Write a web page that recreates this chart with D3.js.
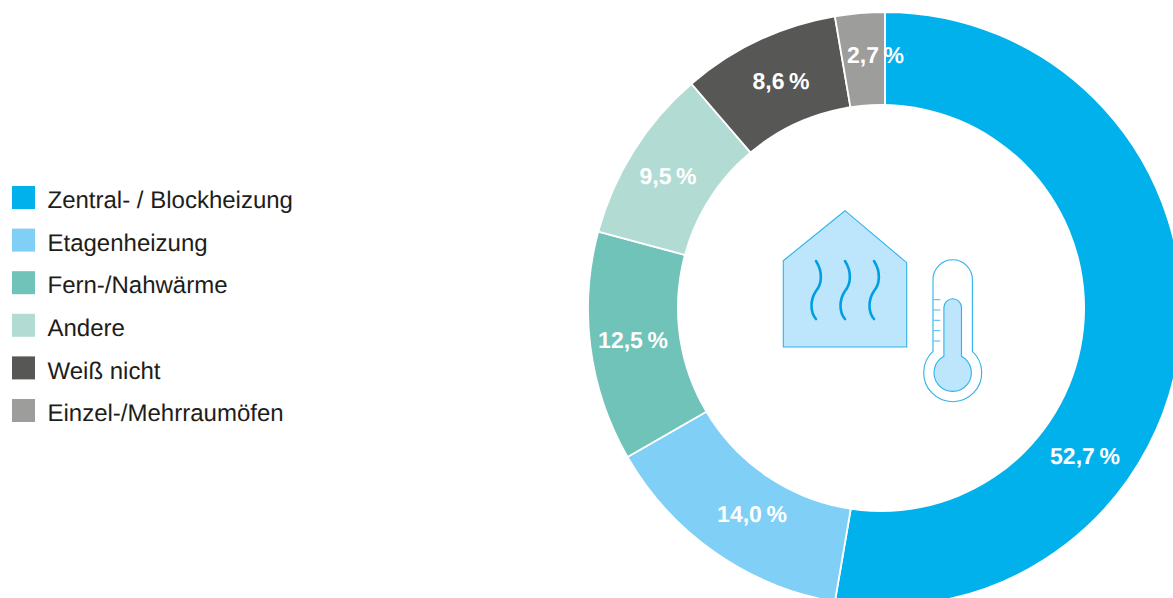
<!DOCTYPE html>
<html>
<head>
<meta charset="utf-8">
<script src="https://cdn.jsdelivr.net/npm/d3@7"></script>
<style>
html,body{margin:0;padding:0;background:#fff;overflow:hidden}
text{font-family:"Liberation Sans",Arial,sans-serif;text-rendering:geometricPrecision}
</style>
</head>
<body>
<svg id="chart" width="1173" height="598"></svg>
<script>
// Heating types and their shares in percent
const categories = ["Zentral- / Blockheizung","Etagenheizung","Fern-/Nahwärme","Andere","Weiß nicht","Einzel-/Mehrraumöfen"];
const shares = [52.7,14.0,12.5,9.5,8.6,2.7];
const colors = ["#00b1eb","#80cff6","#70c3b8","#b2dcd3","#575756","#9d9d9c"];
// Label anchors relative to the ring centre
const labelOffsets = [[200,147],[-133,205],[-252,31],[-217,-133],[-104,-228],[-9.5,-254]];

const svg = d3.select("#chart");
const cx = 885, cy = 309, outerR = 297, innerR = 180;

const fmt = v => v.toFixed(1).replace(".", ",") + "\u2009%";

const pie = d3.pie().sort(null).value(d => d)(shares);
const arc = d3.arc().innerRadius(innerR).outerRadius(outerR);
const ring = svg.append("g").attr("transform", `translate(${cx},${cy})`);

ring.selectAll("path").data(pie).join("path")
  .attr("d", arc)
  .attr("fill", (d,i) => colors[i])
  .attr("stroke", "#fff")
  .attr("stroke-width", 1.8);

// The opening sits slightly left of the ring's centre
svg.append("circle").attr("cx", 881).attr("cy", 308).attr("r", 204).attr("fill", "#fff");

svg.append("g").attr("transform", `translate(${cx},${cy})`)
  .selectAll("text").data(pie).join("text")
  .attr("x", (d,i) => labelOffsets[i][0])
  .attr("y", (d,i) => labelOffsets[i][1])
  .attr("dy", "0.35em")
  .attr("text-anchor", "middle")
  .attr("fill", "#fff")
  .attr("font-weight", "bold")
  .attr("font-size", 23)
  .text(d => fmt(d.value));

// Legend column
const rowY = d3.scalePoint().domain(categories).range([186, 399]);
const legend = svg.append("g");
const rows = legend.selectAll("g").data(categories).join("g")
  .attr("transform", d => `translate(12,${rowY(d)})`);
rows.append("rect").attr("width", 23).attr("height", 23).attr("fill", (d,i) => colors[i]);
rows.append("text").attr("x", 35.5).attr("y", 13.6).attr("dy", "0.36em")
  .attr("font-size", 24).attr("fill", "#1d1d1b").text(d => d);

// Pictogram: house with rising heat
const lineBlue = "#2eb3ea", fillBlue = "#bde5fb", waveBlue = "#009fe3";
const icon = svg.append("g");
icon.append("path")
  .attr("d", "M783.3,260.7 L845,210.7 L906.7,262.7 L906.7,347 L783.3,347 Z")
  .attr("fill", fillBlue).attr("stroke", lineBlue).attr("stroke-width", 1.1);
[816, 845, 874].forEach(x => {
  icon.append("path")
    .attr("d", `M${x},261 C${x+7},272 ${x+6},284 ${x},291 C${x-6},300 ${x-6},312 ${x},319`)
    .attr("fill", "none").attr("stroke", waveBlue).attr("stroke-width", 2.6).attr("stroke-linecap", "round");
});

// Pictogram: thermometer
const tx = 952.7;
icon.append("path")
  .attr("d", `M${tx-19.7},351.4 L${tx-19.7},279.5 A19.7,19.7 0 0 1 ${tx+19.7},279.5 L${tx+19.7},351.4 A29,29 0 1 1 ${tx-19.7},351.4 Z`)
  .attr("fill", "#fff").attr("stroke", lineBlue).attr("stroke-width", 1.1);
icon.append("path")
  .attr("d", `M${tx-8.8},356.2 L${tx-8.8},307.5 A8.8,8.8 0 0 1 ${tx+8.8},307.5 L${tx+8.8},356.2 A18.7,18.7 0 1 1 ${tx-8.8},356.2 Z`)
  .attr("fill", fillBlue).attr("stroke", lineBlue).attr("stroke-width", 1.1);
[299.7,310,320.3,330.7,341].forEach(y => {
  icon.append("line").attr("x1", 933.5).attr("x2", 940.3).attr("y1", y).attr("y2", y)
    .attr("stroke", lineBlue).attr("stroke-width", 0.9);
});
</script>
</body>
</html>
